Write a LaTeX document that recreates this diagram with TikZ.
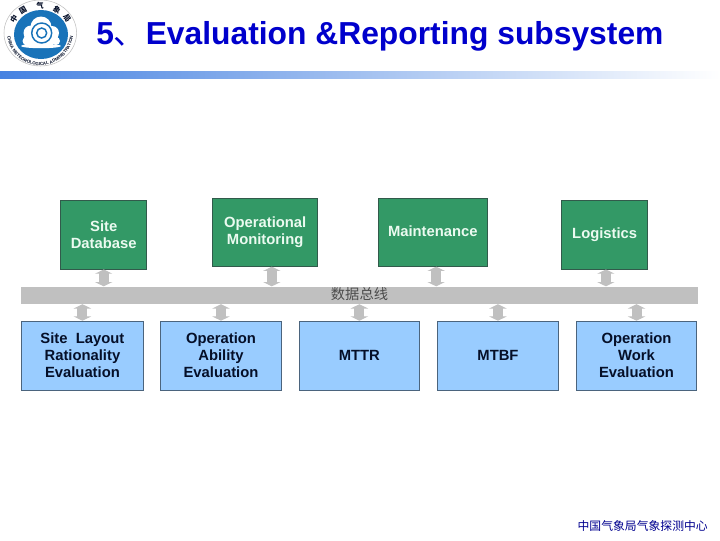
\documentclass[tikz,border=0pt]{standalone}
\usepackage{fontspec}
\setmainfont{Liberation Sans}
\newfontfamily\cjk{Noto Sans CJK SC}
\usetikzlibrary{arrows.meta,decorations.text}
\definecolor{titleblue}{RGB}{0,0,204}
\definecolor{barblue}{RGB}{70,130,225}
\definecolor{gbox}{RGB}{51,153,102}
\definecolor{gedge}{RGB}{50,90,75}
\definecolor{bbox}{RGB}{153,204,255}
\definecolor{bedge}{RGB}{75,100,125}
\definecolor{busgray}{RGB}{192,192,192}
\definecolor{logoblue}{RGB}{25,115,185}
\definecolor{greentext}{RGB}{235,250,240}
\definecolor{darktext}{RGB}{5,15,40}
\tikzset{
 x=0.75pt,y=-0.75pt,
 greenbox/.style={draw=gedge,line width=0.7pt,fill=gbox,text=greentext,font=\bfseries\fontsize{11.1}{12.75}\selectfont,align=center,inner sep=0pt,anchor=north west},
 bluebox/.style={draw=bedge,line width=0.7pt,fill=bbox,text=darktext,font=\bfseries\fontsize{11.1}{12.75}\selectfont,align=center,inner sep=0pt,anchor=north west,minimum height=51.6pt},
 busarrow/.style={draw=busgray,line width=7.5pt,{Triangle[length=3.2pt,width=13pt]}-{Triangle[length=3.2pt,width=13pt]}},
 logochar/.style={font=\cjk\bfseries\fontsize{5.5}{6}\selectfont,text=darktext,inner sep=0pt},
}
\begin{document}
\begin{tikzpicture}
\useasboundingbox (0,0) rectangle (720,540);
\fill[white] (0,0) rectangle (720,540);
% header bar
\shade[left color=barblue,right color=white] (0,71) rectangle (720,78);
% logo
\draw[gray!50,fill=white,line width=0.4pt] (40.3,33) ellipse (36.3 and 33);
\fill[logoblue] (41,34.5) ellipse (27 and 24.5);
\begin{scope}[white]
\fill (41,27) circle (10.5);
\fill (31,33) circle (7.5);
\fill (52,33) circle (7);
\fill (27,41) circle (4.5);
\fill (56,41) circle (4);
\fill (41,38) ellipse (17 and 8);
\fill (41,46) ellipse (20 and 2.2);
\end{scope}
\draw[logoblue,line width=1.1pt] (41.7,33) circle (10);
\draw[logoblue,line width=1.1pt] (41.7,33) circle (5);
\fill[white] (41.7,33) circle (1.3);
\path[decorate,decoration={text along path,text align=center,text={|\fontsize{3.3}{3.3}\selectfont\bfseries\color{darktext}|CHINA METEOROLOGICAL ADMINISTRATION}}] (8.3,24) arc[start angle=195,end angle=-15,radius=33];
\node[logochar,rotate=58] (lc1) at (14,19) {中};
\node[logochar,rotate=30] (lc2) at (23,10) {国};
\node[logochar] (lc3) at (40,5.5) {气};
\node[logochar,rotate=-30] (lc4) at (57,10) {象};
\node[logochar,rotate=-58] (lc5) at (67,18.5) {局};
% title
\node[anchor=base west,inner sep=0pt,text=titleblue,font=\bfseries\fontsize{23.85}{28}\selectfont] (title) at (96,44) {5{\cjk\mdseries 、}Evaluation \&Reporting subsystem};
% bus
\node[fill=busgray,minimum width=677*0.75pt,minimum height=17.4*0.75pt,inner sep=0pt,anchor=north west] (bus) at (21,286.3) {};
\node[text=black!70,font=\cjk\fontsize{10.7}{12}\selectfont,inner sep=0pt] (buslabel) at (359.5,294.5) {数据总线};
% green boxes
\node[greenbox,minimum width=64.4pt,minimum height=51.4pt] (db) at (60.3,200) {Site\\Database};
\node[greenbox,minimum width=78.6pt,minimum height=50.8pt] (mon) at (212.3,198) {\raisebox{3pt}{\begin{tabular}{@{}c@{}}Operational\\Monitoring\end{tabular}}};
\node[greenbox,minimum width=82pt,minimum height=50.8pt] (mnt) at (377.7,198) {\raisebox{1.8pt}{Maintenance}};
\node[greenbox,minimum width=64.4pt,minimum height=51.4pt] (log) at (561.3,200) {\raisebox{-0.6pt}{Logistics}};
% blue boxes
\node[bluebox,minimum width=91pt] (site) at (21.3,320.7) {Site\ \ Layout\\Rationality\\Evaluation};
\node[bluebox,minimum width=90.8pt] (abil) at (160,320.7) {Operation\\Ability\\Evaluation};
\node[bluebox,minimum width=90.6pt] (mttr) at (298.5,320.7) {\raisebox{0.7pt}{MTTR}};
\node[bluebox,minimum width=90.3pt] (mtbf) at (437.3,320.7) {\raisebox{0.7pt}{MTBF}};
\node[bluebox,minimum width=90.5pt] (work) at (575.7,320.7) {Operation\\Work\\Evaluation};
% connectors
\draw[busarrow] (db.south) -- (db.south |- bus.north);
\draw[busarrow] ([xshift=5pt]mon.south) -- ([xshift=5pt]mon.south |- bus.north);
\draw[busarrow] ([xshift=2.5pt]mnt.south) -- ([xshift=2.5pt]mnt.south |- bus.north);
\draw[busarrow] ([xshift=0.9pt]log.south) -- ([xshift=0.9pt]log.south |- bus.north);
\draw[busarrow] (bus.south -| site.north) -- (site.north);
\draw[busarrow] (bus.south -| abil.north) -- (abil.north);
\draw[busarrow] (bus.south -| mttr.north) -- (mttr.north);
\draw[busarrow] (bus.south -| mtbf.north) -- (mtbf.north);
\draw[busarrow] (bus.south -| work.north) -- (work.north);
% footer
\node[anchor=east,inner sep=0pt,text=titleblue!70!black,font=\cjk\fontsize{8.87}{10}\selectfont] (footer) at (708,526) {中国气象局气象探测中心};
\end{tikzpicture}
\end{document}
